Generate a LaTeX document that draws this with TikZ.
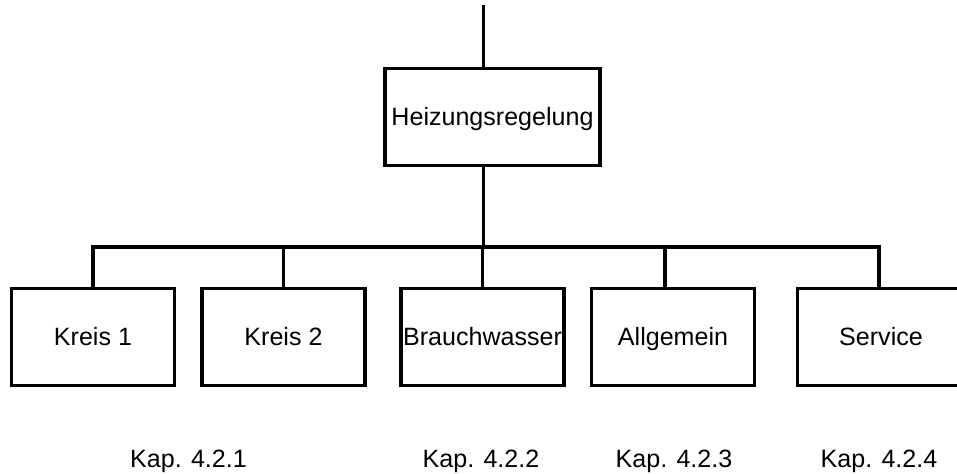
\documentclass[tikz,border=0pt]{standalone}
\usepackage{fontspec}
\setmainfont{Liberation Sans}
\begin{document}
\begin{tikzpicture}[x=0.75pt,y=-0.75pt,
  every node/.style={font=\fontsize{18.8pt}{22pt}\selectfont},
  unitbox/.style={draw, line width=2.7pt, rectangle, inner sep=0pt, outer sep=0pt,
    minimum width=122.25pt, minimum height=72.75pt,
    text height=13.46pt, text depth=0pt},
  link/.style={line width=2.7pt, line cap=rect},
  chapter/.style={anchor=base, inner sep=0pt}]
  \useasboundingbox (0,0) rectangle (957,474);
  \clip (0,0) rectangle (957,474);

  % main controller
  \node[unitbox, minimum width=161.25pt] (heiz) at (492.5,117) {Heizungsregelung};
  \coordinate (feed) at (483.3,7.3);
  \coordinate (bus) at (483.3,247.3);

  % sub-units
  \node[unitbox] (k1) at (93,337) {Kreis 1};
  \node[unitbox] (k2) at (283.5,337) {Kreis 2};
  \node[unitbox] (bw) at (482.5,337) {Brauchwasser};
  \node[unitbox] (ag) at (673,337) {Allgemein};
  \node[unitbox, minimum width=125.25pt] (sv) at (881,337) {Service};

  % connectors
  \draw[link] (feed) -- (feed |- heiz.north);
  \draw[link] (bus |- heiz.south) -- (bus);
  \draw[link] (k1.north |- bus) -- ([xshift=-1.5pt]sv.north |- bus);
  \draw[link] (k1.north) -- (k1.north |- bus);
  \draw[link] (k2.north) -- (k2.north |- bus);
  \draw[link] (bw.north) -- (bw.north |- bus);
  \draw[link] ([xshift=-6pt]ag.north) -- ([xshift=-6pt]ag.north |- bus);
  \draw[link] ([xshift=-1.5pt]sv.north) -- ([xshift=-1.5pt]sv.north |- bus);

  % chapter references
  \node[chapter] (c1) at (188.5,467.7) {Kap. 4.2.1};
  \node[chapter] (c2) at (481,467.7) {Kap. 4.2.2};
  \node[chapter] (c3) at (674,467.7) {Kap. 4.2.3};
  \node[chapter] (c4) at (879,467.7) {Kap. 4.2.4};
\end{tikzpicture}
\end{document}
